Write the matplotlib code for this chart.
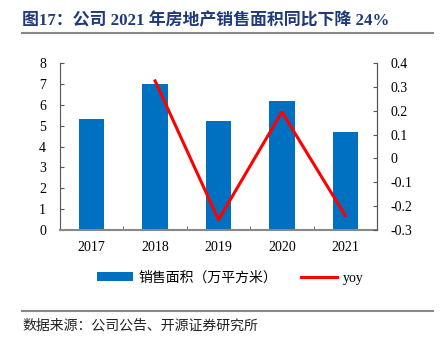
import numpy as np
import matplotlib
matplotlib.use("Agg")
import matplotlib.pyplot as plt
from matplotlib.lines import Line2D
from matplotlib.patches import Patch

plt.rcParams['font.family'] = ['Liberation Serif', 'Noto Sans CJK SC']

years = ["2017", "2018", "2019", "2020", "2021"]
area = [5.3, 7.0, 5.2, 6.2, 4.7]
yoy = [np.nan, 0.325, -0.257, 0.195, -0.24]

title = "图17：公司 2021 年房地产销售面积同比下降 24%"
source = "数据来源：公司公告、开源证券研究所"
bar_label = "销售面积（万平方米）"
line_label = "yoy"

W, H = 441, 345
fig = plt.figure(figsize=(W / 100, H / 100), dpi=100)

ax = fig.add_axes([60 / W, 1 - 230 / H, 317 / W, 167 / H])
x = np.arange(len(years))
ax.bar(x, area, width=0.4, color="#0070C0", zorder=2)
ax.set_xlim(-0.5, len(years) - 0.5)
ax.set_ylim(0, 8)
ax.set_yticks(range(0, 9))
ax.set_xticks(x)
ax.set_xticklabels(years)
ax.set_xticks(np.arange(0.5, len(years) - 0.5, 1), minor=True)
ax.tick_params(axis="x", which="major", length=0, pad=8, labelsize=10)
ax.tick_params(axis="x", which="minor", direction="in", length=3, color="#555555")
ax.tick_params(axis="y", direction="in", length=3, color="#555555", labelsize=10, pad=10)
ax.spines["top"].set_visible(False)
for s in ["left", "right"]:
    ax.spines[s].set_color("#555555")
ax.spines["bottom"].set_color("#888888")
ax.spines["bottom"].set_linewidth(1.5)

ax2 = ax.twinx()
ax2.plot(x, yoy, color="#FF0000", lw=2.2, zorder=3)
ax2.set_ylim(-0.3, 0.4)
yt = [-0.3, -0.2, -0.1, 0, 0.1, 0.2, 0.3, 0.4]
ax2.set_yticks(yt)
ax2.set_yticklabels(["0" if v == 0 else f"{v:.1f}" for v in yt])
ax2.tick_params(axis="y", direction="in", length=3, color="#555555", labelsize=10, pad=10)
ax2.spines["top"].set_visible(False)
ax2.spines["right"].set_color("#555555")
ax2.spines["left"].set_visible(False)
ax2.spines["bottom"].set_visible(False)

handles = [Patch(facecolor="#0070C0", label=bar_label),
           Line2D([], [], color="#FF0000", lw=2.2, label=line_label)]
fig.legend(handles=handles, loc="center", bbox_to_anchor=(230 / W, 1 - 278 / H),
           ncol=2, frameon=False, fontsize=10, handlelength=2.6, handleheight=0.6,
           columnspacing=1.7, handletextpad=0.4)

fig.text(22 / W, 1 - 21 / H, title, fontsize=12.2, fontweight="bold",
         color="#1F3A7A", va="center", ha="left")
fig.add_artist(Line2D([22 / W, 433 / W], [1 - 33 / H, 1 - 33 / H], color="#888888", lw=1.5))
fig.add_artist(Line2D([22 / W, 433 / W], [1 - 311 / H, 1 - 311 / H], color="#888888", lw=1.5))
fig.text(22 / W, 1 - 326 / H, source, fontsize=10, color="#222222", va="center", ha="left")

fig.savefig("out.png", dpi=100)
